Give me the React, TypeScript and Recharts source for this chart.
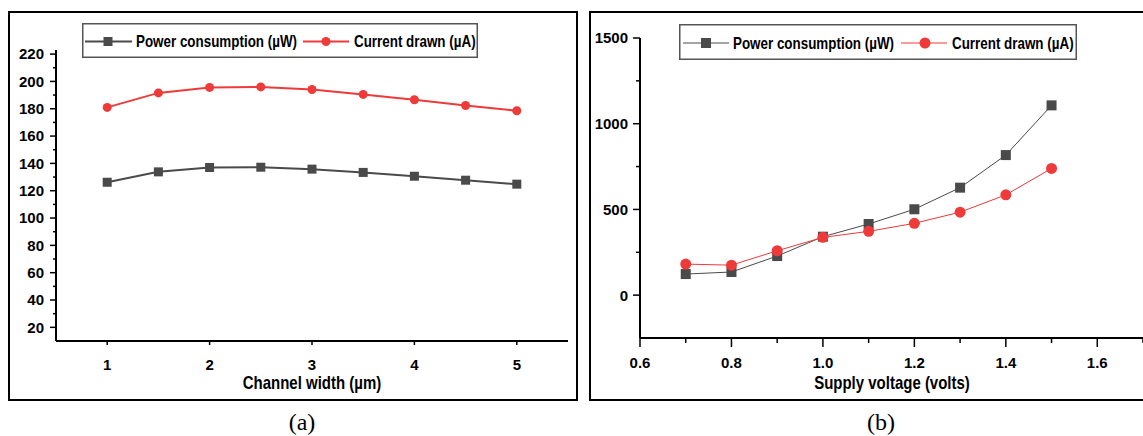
import React from 'react';
import { LineChart, Line, XAxis, YAxis, Legend } from 'recharts';

// ---------- Panel (a) data ----------
const widthValues = [1, 1.5, 2, 2.5, 3, 3.5, 4, 4.5, 5];
const powerVsWidth = [126.2, 133.8, 137, 137.2, 135.8, 133.4, 130.6, 127.7, 124.8];
const currentVsWidth = [181, 191.6, 195.6, 196, 194.1, 190.5, 186.6, 182.4, 178.5];
const widthTicks = [1, 2, 3, 4, 5];
const leftYTicks = [20, 40, 60, 80, 100, 120, 140, 160, 180, 200, 220];
const leftYMinorTicks = [30, 50, 70, 90, 110, 130, 150, 170, 190, 210];

// ---------- Panel (b) data ----------
const voltageValues = [0.7, 0.8, 0.9, 1.0, 1.1, 1.2, 1.3, 1.4, 1.5];
const powerVsVoltage = [123, 135, 228, 341, 415, 501, 627, 817, 1107];
const currentVsVoltage = [181, 175, 259, 337, 372, 419, 484, 585, 739];
const voltageTicks = [0.6, 0.8, 1.0, 1.2, 1.4, 1.6];
const voltageMinorTicks = [0.7, 0.9, 1.1, 1.3, 1.5, 1.7];
const rightYTicks = [0, 500, 1000, 1500];
const rightYMinorTicks = [250, 750, 1250];

const seriesNames = ['Power consumption (\u00b5W)', 'Current drawn (\u00b5A)'];
const xTitles = ['Channel width (\u00b5m)', 'Supply voltage (volts)'];
const captions = ['(a)', '(b)'];

const dataA = widthValues.map((x, i) => ({ x, power: powerVsWidth[i], current: currentVsWidth[i] }));
const dataB = voltageValues.map((x, i) => ({ x, power: powerVsVoltage[i], current: currentVsVoltage[i] }));

const GRAY = '#4a4a4a';
const RED = '#ef3a3a';
const SANS = '"Liberation Sans", Arial, sans-serif';
const SERIF = '"Liberation Serif", "Times New Roman", serif';

const sortNum = (a: number[]) => [...a].sort((p, q) => p - q);

const squareDot = (size: number) => (props: any) => {
  const { cx, cy, index } = props;
  if (cx == null || cy == null) return <g key={index} />;
  return <rect key={index} x={cx - size / 2} y={cy - size / 2} width={size} height={size} fill={GRAY} stroke="none" />;
};
const circleDot = (r: number) => (props: any) => {
  const { cx, cy, index } = props;
  if (cx == null || cy == null) return <g key={index} />;
  return <circle key={index} cx={cx} cy={cy} r={r} fill={RED} stroke="none" />;
};

// Custom tick renderers (tickSize/tickMargin are 0, so x/y sit on the axis line)
const makeYTick = (majors: number[], majorLen: number, minorLen: number, gap: number) => (props: any) => {
  const { x, y, payload } = props;
  const v = payload.value;
  const isMajor = majors.includes(v);
  const len = isMajor ? majorLen : minorLen;
  return (
    <g>
      <line x1={x - len} x2={x} y1={y} y2={y} stroke="#000" strokeWidth={1.5} />
      {isMajor && (
        <text x={x - majorLen - gap} y={y} dy="0.36em" textAnchor="end" fontFamily={SANS} fontWeight="bold" fontSize={15} fill="#000">
          {String(v)}
        </text>
      )}
    </g>
  );
};
const makeXTick = (majors: number[], majorLen: number, minorLen: number, gap: number, fmt: (v: number) => string) => (props: any) => {
  const { x, y, payload } = props;
  const v = payload.value;
  const isMajor = majors.includes(v);
  const len = isMajor ? majorLen : minorLen;
  return (
    <g>
      <line x1={x} x2={x} y1={y} y2={y + len} stroke="#000" strokeWidth={1.5} />
      {isMajor && (
        <text x={x} y={y + majorLen + gap} dy="0.72em" textAnchor="middle" fontFamily={SANS} fontWeight="bold" fontSize={15} fill="#000">
          {fmt(v)}
        </text>
      )}
    </g>
  );
};

// Tall/condensed bold text: normal-width font scaled vertically
const TallText = ({ x, y, size, anchor, children }: any) => (
  <text transform={`translate(${x},${y}) scale(1,1.2)`} x={0} y={0} dy="0.36em" textAnchor={anchor || 'start'}
    fontFamily={SANS} fontWeight="bold" fontSize={size} fill="#000">{children}</text>
);

type LegendLayout = {
  w: number; h: number;
  l1: [number, number]; m1: number; t1: number;
  l2: [number, number]; m2: number; t2: number;
  sw: number; sq: number; cr: number;
};

const makeLegend = (L: LegendLayout) => () => {
  const cy = L.h / 2 + 1;
  return (
    <svg width={L.w} height={L.h} style={{ display: 'block' }}>
      <rect x={0.75} y={0.75} width={L.w - 1.5} height={L.h - 1.5} fill="#fff" stroke="#555" strokeWidth={1.5} />
      <line x1={L.l1[0]} x2={L.l1[1]} y1={cy} y2={cy} stroke={GRAY} strokeWidth={L.sw} />
      <rect x={L.m1 - L.sq / 2} y={cy - L.sq / 2} width={L.sq} height={L.sq} fill={GRAY} />
      <TallText x={L.t1} y={cy} size={13.4}>{seriesNames[0]}</TallText>
      <line x1={L.l2[0]} x2={L.l2[1]} y1={cy} y2={cy} stroke={RED} strokeWidth={L.sw} />
      <circle cx={L.m2} cy={cy} r={L.cr} fill={RED} />
      <TallText x={L.t2} y={cy} size={13.4}>{seriesNames[1]}</TallText>
    </svg>
  );
};

const legendA = makeLegend({ w: 396, h: 35, l1: [3, 50], m1: 26, t1: 54, l2: [221, 267], m2: 244, t2: 272, sw: 2, sq: 9, cr: 4.5 });
const legendB = makeLegend({ w: 398, h: 36, l1: [4, 50], m1: 27, t1: 54, l2: [222, 268], m2: 246, t2: 273, sw: 1, sq: 10, cr: 5.5 });

const AxisTitle = ({ cx, cy, text }: { cx: number; cy: number; text: string }) => (
  <svg style={{ position: 'absolute', left: cx - 100, top: cy - 15 }} width={200} height={30}>
    <TallText x={100} y={15} size={15} anchor="middle">{text}</TallText>
  </svg>
);

export default function App() {
  return (
    <div style={{ position: 'fixed', left: 0, top: 0, width: 1143, height: 436, overflow: 'hidden', background: '#fff' }}>
      {/* panel borders */}
      <div style={{ position: 'absolute', left: 8, top: 11, width: 570, height: 390, border: '2px solid #000', boxSizing: 'border-box' }} />
      <div style={{ position: 'absolute', left: 589, top: 11, width: 600, height: 390, border: '2px solid #000', boxSizing: 'border-box' }} />

      {/* Panel (a) */}
      <div style={{ position: 'absolute', left: 0, top: 0 }}>
        <LineChart width={580} height={436} data={dataA} margin={{ top: 50, right: 12, bottom: 0, left: 0 }}>
          <XAxis
            dataKey="x" type="number" domain={[0.5, 5.5]} ticks={widthTicks} interval={0}
            height={95} axisLine={{ stroke: '#000', strokeWidth: 2 }} tickLine={false}
            tickSize={0} tickMargin={0} tick={makeXTick(widthTicks, 4, 4, 14, (v) => String(v))}
          />
          <YAxis
            type="number" domain={[10, 223]} ticks={sortNum([...leftYTicks, ...leftYMinorTicks])} interval={0} width={56}
            axisLine={{ stroke: '#000', strokeWidth: 2 }} tickLine={false}
            tickSize={0} tickMargin={0} tick={makeYTick(leftYTicks, 6, 3, 6)}
          />
          <Legend layout="vertical" align="center" verticalAlign="middle" content={legendA}
            wrapperStyle={{ position: 'absolute', left: 82, top: 23, width: 396, height: 35 }} />
          <Line dataKey="power" stroke={GRAY} strokeWidth={2} dot={squareDot(9)} isAnimationActive={false} />
          <Line dataKey="current" stroke={RED} strokeWidth={2} dot={circleDot(4.5)} isAnimationActive={false} />
        </LineChart>
      </div>

      {/* Panel (b) */}
      <div style={{ position: 'absolute', left: 580, top: 0 }}>
        <LineChart width={570} height={436} data={dataB} margin={{ top: 38, right: 7, bottom: 0, left: 0 }}>
          <XAxis
            dataKey="x" type="number" domain={[0.6, 1.7]} ticks={sortNum([...voltageTicks, ...voltageMinorTicks])} interval={0}
            height={98} axisLine={{ stroke: '#000', strokeWidth: 2 }} tickLine={false}
            tickSize={0} tickMargin={0} tick={makeXTick(voltageTicks, 9, 5, 10, (v) => v.toFixed(1))}
          />
          <YAxis
            type="number" domain={[-250, 1500]} ticks={sortNum([...rightYTicks, ...rightYMinorTicks])} interval={0} width={60}
            axisLine={{ stroke: '#000', strokeWidth: 2 }} tickLine={false}
            tickSize={0} tickMargin={0} tick={makeYTick(rightYTicks, 7, 4, 5)}
          />
          <Legend layout="vertical" align="center" verticalAlign="middle" content={legendB}
            wrapperStyle={{ position: 'absolute', left: 99, top: 24, width: 398, height: 36 }} />
          <Line dataKey="power" stroke={GRAY} strokeWidth={1} dot={squareDot(10)} isAnimationActive={false} />
          <Line dataKey="current" stroke={RED} strokeWidth={1} dot={circleDot(5.5)} isAnimationActive={false} />
        </LineChart>
      </div>

      <AxisTitle cx={312} cy={383} text={xTitles[0]} />
      <AxisTitle cx={892} cy={383} text={xTitles[1]} />

      {/* captions */}
      <div style={{ position: 'absolute', left: 302, top: 422, transform: 'translate(-50%, -50%)', fontFamily: SERIF, fontSize: 24, lineHeight: 1 }}>{captions[0]}</div>
      <div style={{ position: 'absolute', left: 881, top: 422, transform: 'translate(-50%, -50%)', fontFamily: SERIF, fontSize: 24, lineHeight: 1 }}>{captions[1]}</div>
    </div>
  );
}
